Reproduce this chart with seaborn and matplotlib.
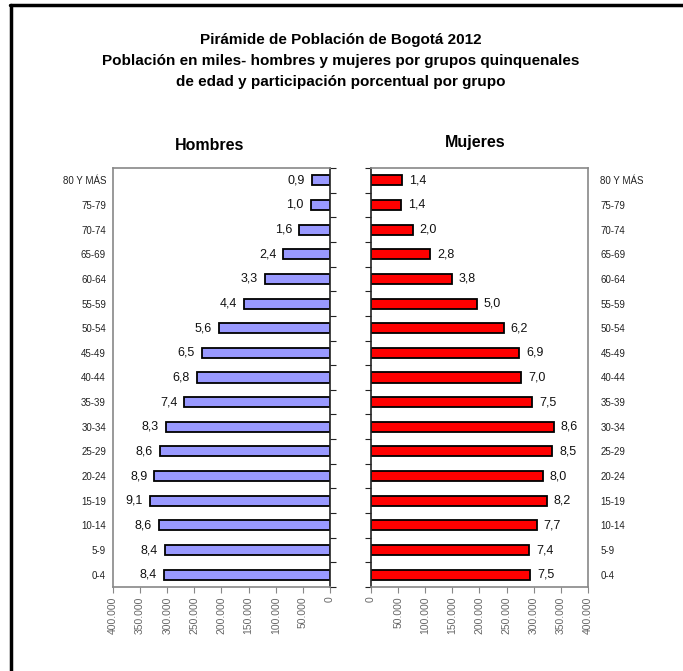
import matplotlib
matplotlib.use("Agg")
import matplotlib.pyplot as plt
import seaborn as sns
import pandas as pd
from matplotlib.lines import Line2D
from matplotlib.ticker import FixedLocator, FuncFormatter, MultipleLocator

# %% data
grupos = ["80 Y MÁS", "75-79", "70-74", "65-69", "60-64", "55-59", "50-54",
          "45-49", "40-44", "35-39", "30-34", "25-29", "20-24", "15-19",
          "10-14", "5-9", "0-4"]
hombres = [32600, 35600, 57100, 86000, 119800, 159100, 204600, 235900,
           245700, 268500, 302900, 313300, 323700, 331700, 315100, 304700,
           306500]
mujeres = [57100, 55300, 76800, 109300, 148700, 194700, 244500, 273400,
           276500, 296700, 336600, 334200, 316400, 323700, 305300, 291800,
           293700]
pct_hombres = ["0,9", "1,0", "1,6", "2,4", "3,3", "4,4", "5,6", "6,5", "6,8",
               "7,4", "8,3", "8,6", "8,9", "9,1", "8,6", "8,4", "8,4"]
pct_mujeres = ["1,4", "1,4", "2,0", "2,8", "3,8", "5,0", "6,2", "6,9", "7,0",
               "7,5", "8,6", "8,5", "8,0", "8,2", "7,7", "7,4", "7,5"]

df = pd.DataFrame({"grupo": grupos, "hombres": hombres, "mujeres": mujeres})

sns.set_style("white")
plt.rcParams["font.family"] = ["Liberation Sans", "DejaVu Sans"]

W, H = 683, 671
fig = plt.figure(figsize=(W / 100, H / 100), dpi=100)


def box(x0, x1, y0, y1):
    return [x0 / W, 1 - y1 / H, (x1 - x0) / W, (y1 - y0) / H]


ax_h = fig.add_axes(box(113, 330, 168, 587))
ax_m = fig.add_axes(box(371, 588, 168, 587))

thousands = FuncFormatter(lambda v, p: f"{v:,.0f}".replace(",", "."))
bounds = [i - 0.5 for i in range(len(grupos) + 1)]

sns.barplot(data=df, x="hombres", y="grupo", orient="h", color="#9999FF",
            edgecolor="black", linewidth=1.3, width=0.41, saturation=1, ax=ax_h)
sns.barplot(data=df, x="mujeres", y="grupo", orient="h", color="#FF0000",
            edgecolor="black", linewidth=1.3, width=0.41, saturation=1, ax=ax_m)

for ax in [ax_h, ax_m]:
    ax.set_xlim(0, 400000)
    ax.set_ylim(len(grupos) - 0.5, -0.5)
    ax.xaxis.set_major_locator(MultipleLocator(50000))
    ax.xaxis.set_major_formatter(thousands)
    ax.tick_params(axis="x", bottom=True, length=4, width=0.8, color="#888888",
                   labelsize=7.5, labelcolor="#666666", labelrotation=90,
                   pad=3)
    ax.yaxis.set_minor_locator(FixedLocator(bounds))
    ax.set_xlabel("")
    ax.set_ylabel("")
    for s in ax.spines.values():
        s.set_color("#888888")
        s.set_linewidth(1.2)

ax_h.invert_xaxis()

# percentage labels at the outer end of each bar
anns = ax_h.bar_label(ax_h.containers[0], labels=pct_hombres, fontsize=9,
                      color="#111111")
for a in anns:
    a.xyann = (-5, 0)
    a.set_horizontalalignment("right")
anns = ax_m.bar_label(ax_m.containers[0], labels=pct_mujeres, fontsize=9,
                      color="#111111")
for a in anns:
    a.xyann = (5, 0)
    a.set_horizontalalignment("left")

# hombres: labels left, tick marks on right spine
ax_h.tick_params(axis="y", which="major", length=0, labelsize=7,
                 labelcolor="#222222", pad=5)
ax_h.tick_params(axis="y", which="minor", left=False, right=True,
                 length=4, width=0.8, color="#222222")
ax_h.spines["right"].set_color("#222222")

# mujeres: labels right, tick marks on left spine
ax_m.tick_params(axis="y", which="major", length=0, labelleft=False,
                 labelright=True, labelsize=7, labelcolor="#222222", pad=9)
ax_m.tick_params(axis="y", which="minor", left=True, right=False,
                 length=4, width=0.8, color="#222222")
ax_m.spines["left"].set_color("#222222")

# titles
titulos = ["Pirámide de Población de Bogotá 2012",
           "Población en miles- hombres y mujeres por grupos quinquenales",
           "de edad y participación porcentual por grupo"]
for y, t in zip([40, 61, 82], titulos):
    fig.text(341 / W, 1 - y / H, t, ha="center", va="center",
             fontsize=11, fontweight="bold", color="black")
fig.text(210 / W, 1 - 145 / H, "Hombres", ha="center", va="center",
         fontsize=11.5, fontweight="bold", color="black")
fig.text(475 / W, 1 - 143 / H, "Mujeres", ha="center", va="center",
         fontsize=11.5, fontweight="bold", color="black")

# frame lines (top and left) as in the source image
fig.add_artist(Line2D([10 / W, 1], [1 - 5 / H, 1 - 5 / H],
                      transform=fig.transFigure, color="black", lw=2.5))
fig.add_artist(Line2D([11 / W, 11 / W], [1 - 5 / H, 0],
                      transform=fig.transFigure, color="black", lw=2.5))

fig.savefig("out.png", dpi=100)
